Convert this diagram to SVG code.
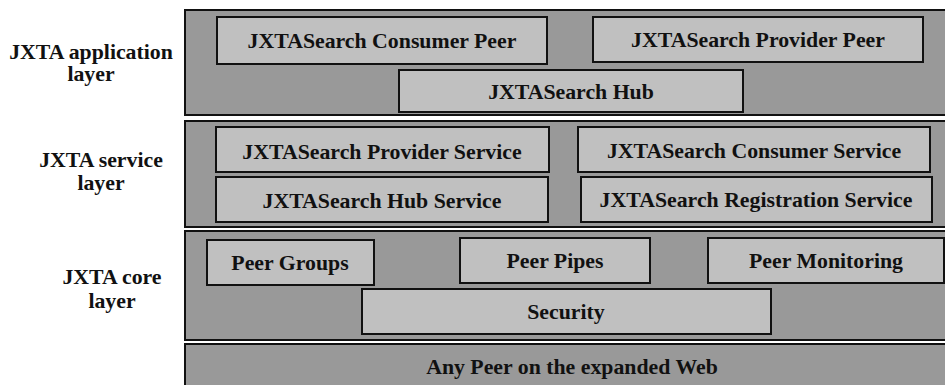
<svg xmlns="http://www.w3.org/2000/svg" width="945" height="385" viewBox="0 0 945 385">
<style>
.layer{fill:#999999;stroke:#111;stroke-width:2}
.box{fill:#c0c0c0;stroke:#111;stroke-width:2}
text{font-family:'Liberation Serif','Times New Roman',serif;font-weight:bold;font-size:21.8px;fill:#111;text-anchor:middle}
</style>
<rect width="945" height="385" fill="#fff"/>
<g id="label-app"><text x="91" y="59">JXTA application</text><text x="91" y="81">layer</text></g>
<g id="label-service"><text x="101" y="167">JXTA service</text><text x="101" y="190">layer</text></g>
<g id="label-core"><text x="112" y="284">JXTA core</text><text x="112" y="308">layer</text></g>
<g id="layer-app"><rect class="layer" x="185" y="10" width="762" height="105"/></g>
<g id="layer-service"><rect class="layer" x="185" y="121" width="762" height="106"/></g>
<g id="layer-core"><rect class="layer" x="185" y="231" width="762" height="109"/></g>
<g id="layer-web"><rect class="layer" x="185" y="344" width="762" height="50"/><text x="572" y="374">Any Peer on the expanded Web</text></g>
<g id="consumer-peer"><rect class="box" x="217" y="17" width="330" height="47"/><text x="382" y="48">JXTASearch Consumer Peer</text></g>
<g id="provider-peer"><rect class="box" x="593" y="17" width="330" height="45"/><text x="758" y="47">JXTASearch Provider Peer</text></g>
<g id="hub"><rect class="box" x="399" y="70" width="344" height="42"/><text x="571" y="99">JXTASearch Hub</text></g>
<g id="provider-service"><rect class="box" x="216" y="127" width="333" height="45"/><text x="382" y="159">JXTASearch Provider Service</text></g>
<g id="hub-service"><rect class="box" x="216" y="177" width="332" height="45"/><text x="382" y="208">JXTASearch Hub Service</text></g>
<g id="consumer-service"><rect class="box" x="578" y="127" width="352" height="45"/><text x="754" y="158">JXTASearch Consumer Service</text></g>
<g id="registration-service"><rect class="box" x="581" y="177" width="351" height="45"/><text x="756" y="207">JXTASearch Registration Service</text></g>
<g id="peer-groups"><rect class="box" x="207" y="240" width="167" height="45"/><text x="290" y="270">Peer Groups</text></g>
<g id="peer-pipes"><rect class="box" x="460" y="238" width="190" height="45"/><text x="555" y="268">Peer Pipes</text></g>
<g id="peer-monitoring"><rect class="box" x="708" y="238" width="236" height="45"/><text x="826" y="268">Peer Monitoring</text></g>
<g id="security"><rect class="box" x="362" y="289" width="409" height="45"/><text x="566" y="319">Security</text></g>
<g id="connectors"></g>
</svg>
